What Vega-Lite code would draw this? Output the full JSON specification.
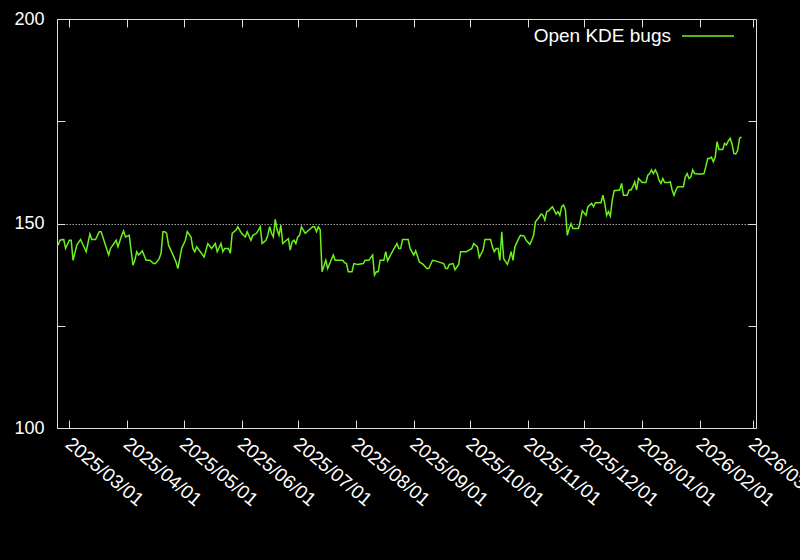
{
  "$schema": "https://vega.github.io/schema/vega-lite/v6.json",
  "width": 699,
  "height": 409,
  "autosize": "none",
  "padding": {"left": 57, "top": 19, "right": 44, "bottom": 132},
  "background": "black",
  "config": {
    "view": {"stroke": "#dddddd", "strokeWidth": 1},
    "font": "Liberation Sans",
    "axis": {"domain": false, "labelColor": "white", "labelFont": "Liberation Sans", "labelFontSize": 18, "tickColor": "#dddddd", "grid": false}
  },
  "data": {"values": [
    {"date":"2025-02-23","bugs":144.7},{"date":"2025-02-24","bugs":145.9},{"date":"2025-02-26","bugs":146.1},{"date":"2025-02-27","bugs":143.9},
    {"date":"2025-03-01","bugs":145.9},{"date":"2025-03-02","bugs":145.9},{"date":"2025-03-03","bugs":141.0},{"date":"2025-03-05","bugs":144.7},
    {"date":"2025-03-07","bugs":146.1},{"date":"2025-03-10","bugs":143.1},{"date":"2025-03-12","bugs":147.4},{"date":"2025-03-13","bugs":146.1},
    {"date":"2025-03-15","bugs":146.1},{"date":"2025-03-17","bugs":148.0},{"date":"2025-03-18","bugs":148.0},{"date":"2025-03-22","bugs":142.3},
    {"date":"2025-03-23","bugs":143.9},{"date":"2025-03-26","bugs":145.9},{"date":"2025-03-27","bugs":144.3},{"date":"2025-03-29","bugs":147.1},
    {"date":"2025-03-30","bugs":148.2},{"date":"2025-03-31","bugs":146.7},{"date":"2025-04-02","bugs":147.1},{"date":"2025-04-04","bugs":139.8},
    {"date":"2025-04-05","bugs":141.0},{"date":"2025-04-06","bugs":143.1},{"date":"2025-04-07","bugs":142.3},{"date":"2025-04-09","bugs":143.3},
    {"date":"2025-04-11","bugs":141.0},{"date":"2025-04-13","bugs":141.0},{"date":"2025-04-15","bugs":140.2},{"date":"2025-04-16","bugs":140.2},
    {"date":"2025-04-18","bugs":141.4},{"date":"2025-04-19","bugs":142.7},{"date":"2025-04-20","bugs":148.0},{"date":"2025-04-21","bugs":148.0},
    {"date":"2025-04-22","bugs":147.6},{"date":"2025-04-23","bugs":144.7},{"date":"2025-04-25","bugs":142.7},{"date":"2025-04-27","bugs":140.6},
    {"date":"2025-04-28","bugs":139.0},{"date":"2025-04-30","bugs":143.9},{"date":"2025-05-02","bugs":145.9},{"date":"2025-05-03","bugs":148.0},
    {"date":"2025-05-05","bugs":146.7},{"date":"2025-05-06","bugs":143.9},{"date":"2025-05-07","bugs":143.1},{"date":"2025-05-08","bugs":144.3},
    {"date":"2025-05-10","bugs":143.1},{"date":"2025-05-12","bugs":141.8},{"date":"2025-05-13","bugs":143.5},{"date":"2025-05-14","bugs":145.1},
    {"date":"2025-05-16","bugs":143.9},{"date":"2025-05-18","bugs":145.1},{"date":"2025-05-19","bugs":143.1},{"date":"2025-05-21","bugs":145.1},
    {"date":"2025-05-22","bugs":143.1},{"date":"2025-05-23","bugs":143.9},{"date":"2025-05-25","bugs":143.9},{"date":"2025-05-26","bugs":142.7},
    {"date":"2025-05-27","bugs":147.6},{"date":"2025-05-29","bugs":148.4},{"date":"2025-05-30","bugs":149.2},{"date":"2025-06-01","bugs":147.6},
    {"date":"2025-06-03","bugs":146.7},{"date":"2025-06-04","bugs":148.0},{"date":"2025-06-06","bugs":145.9},{"date":"2025-06-07","bugs":147.1},
    {"date":"2025-06-09","bugs":147.6},{"date":"2025-06-11","bugs":149.2},{"date":"2025-06-12","bugs":145.1},{"date":"2025-06-14","bugs":145.9},
    {"date":"2025-06-15","bugs":147.1},{"date":"2025-06-16","bugs":149.2},{"date":"2025-06-17","bugs":147.6},{"date":"2025-06-18","bugs":146.7},
    {"date":"2025-06-19","bugs":151.0},{"date":"2025-06-20","bugs":148.4},{"date":"2025-06-21","bugs":147.1},{"date":"2025-06-22","bugs":149.6},
    {"date":"2025-06-23","bugs":145.1},{"date":"2025-06-25","bugs":145.9},{"date":"2025-06-26","bugs":146.3},{"date":"2025-06-27","bugs":143.5},
    {"date":"2025-06-28","bugs":145.5},{"date":"2025-06-29","bugs":145.9},{"date":"2025-06-30","bugs":145.1},{"date":"2025-07-01","bugs":146.7},
    {"date":"2025-07-02","bugs":147.1},{"date":"2025-07-03","bugs":149.2},{"date":"2025-07-05","bugs":147.6},{"date":"2025-07-07","bugs":148.4},
    {"date":"2025-07-09","bugs":149.2},{"date":"2025-07-10","bugs":149.2},{"date":"2025-07-11","bugs":148.0},{"date":"2025-07-12","bugs":149.2},
    {"date":"2025-07-13","bugs":148.5},{"date":"2025-07-14","bugs":138.2},{"date":"2025-07-16","bugs":141.0},{"date":"2025-07-17","bugs":139.0},
    {"date":"2025-07-20","bugs":142.3},{"date":"2025-07-21","bugs":141.0},{"date":"2025-07-25","bugs":141.0},{"date":"2025-07-26","bugs":140.4},
    {"date":"2025-07-27","bugs":140.2},{"date":"2025-07-28","bugs":138.2},{"date":"2025-07-30","bugs":138.2},{"date":"2025-07-31","bugs":140.2},
    {"date":"2025-08-02","bugs":140.0},{"date":"2025-08-05","bugs":140.2},{"date":"2025-08-06","bugs":141.0},{"date":"2025-08-08","bugs":141.0},
    {"date":"2025-08-10","bugs":142.3},{"date":"2025-08-11","bugs":137.4},{"date":"2025-08-12","bugs":138.2},{"date":"2025-08-13","bugs":138.2},
    {"date":"2025-08-14","bugs":141.0},{"date":"2025-08-16","bugs":141.0},{"date":"2025-08-17","bugs":143.1},{"date":"2025-08-18","bugs":140.9},
    {"date":"2025-08-19","bugs":141.8},{"date":"2025-08-21","bugs":143.5},{"date":"2025-08-23","bugs":145.1},{"date":"2025-08-24","bugs":143.9},
    {"date":"2025-08-25","bugs":143.9},{"date":"2025-08-26","bugs":146.1},{"date":"2025-08-29","bugs":146.1},{"date":"2025-08-30","bugs":143.9},
    {"date":"2025-09-01","bugs":142.3},{"date":"2025-09-02","bugs":143.3},{"date":"2025-09-04","bugs":140.6},{"date":"2025-09-06","bugs":140.0},
    {"date":"2025-09-08","bugs":139.0},{"date":"2025-09-09","bugs":139.0},{"date":"2025-09-11","bugs":141.0},{"date":"2025-09-13","bugs":140.8},
    {"date":"2025-09-15","bugs":140.5},{"date":"2025-09-17","bugs":140.2},{"date":"2025-09-18","bugs":139.0},{"date":"2025-09-19","bugs":139.0},
    {"date":"2025-09-20","bugs":140.0},{"date":"2025-09-22","bugs":140.2},{"date":"2025-09-23","bugs":138.7},{"date":"2025-09-25","bugs":140.0},
    {"date":"2025-09-26","bugs":143.1},{"date":"2025-09-29","bugs":143.1},{"date":"2025-10-01","bugs":143.6},{"date":"2025-10-02","bugs":143.9},
    {"date":"2025-10-03","bugs":145.1},{"date":"2025-10-05","bugs":144.3},{"date":"2025-10-06","bugs":141.7},{"date":"2025-10-08","bugs":143.5},
    {"date":"2025-10-09","bugs":146.1},{"date":"2025-10-12","bugs":146.1},{"date":"2025-10-13","bugs":144.3},{"date":"2025-10-14","bugs":143.1},
    {"date":"2025-10-15","bugs":143.9},{"date":"2025-10-16","bugs":143.9},{"date":"2025-10-17","bugs":141.0},{"date":"2025-10-18","bugs":148.0},
    {"date":"2025-10-19","bugs":141.4},{"date":"2025-10-21","bugs":140.0},{"date":"2025-10-22","bugs":141.4},{"date":"2025-10-23","bugs":143.1},
    {"date":"2025-10-24","bugs":141.0},{"date":"2025-10-25","bugs":144.3},{"date":"2025-10-27","bugs":146.3},{"date":"2025-10-28","bugs":147.1},
    {"date":"2025-10-30","bugs":146.9},{"date":"2025-10-31","bugs":145.9},{"date":"2025-11-02","bugs":144.9},{"date":"2025-11-03","bugs":145.9},
    {"date":"2025-11-04","bugs":147.1},{"date":"2025-11-05","bugs":150.4},{"date":"2025-11-07","bugs":151.6},{"date":"2025-11-08","bugs":152.3},
    {"date":"2025-11-09","bugs":152.0},{"date":"2025-11-10","bugs":150.8},{"date":"2025-11-11","bugs":152.9},{"date":"2025-11-12","bugs":153.1},
    {"date":"2025-11-14","bugs":154.1},{"date":"2025-11-15","bugs":153.3},{"date":"2025-11-16","bugs":152.3},{"date":"2025-11-17","bugs":152.9},
    {"date":"2025-11-18","bugs":152.0},{"date":"2025-11-19","bugs":154.1},{"date":"2025-11-20","bugs":154.5},{"date":"2025-11-21","bugs":153.3},
    {"date":"2025-11-22","bugs":147.1},{"date":"2025-11-23","bugs":148.8},{"date":"2025-11-24","bugs":150.0},{"date":"2025-11-25","bugs":148.8},
    {"date":"2025-11-26","bugs":148.8},{"date":"2025-11-28","bugs":148.8},{"date":"2025-11-29","bugs":150.8},{"date":"2025-11-30","bugs":153.1},
    {"date":"2025-12-02","bugs":152.0},{"date":"2025-12-03","bugs":154.1},{"date":"2025-12-05","bugs":154.9},{"date":"2025-12-06","bugs":154.1},
    {"date":"2025-12-07","bugs":155.1},{"date":"2025-12-10","bugs":155.1},{"date":"2025-12-11","bugs":156.9},{"date":"2025-12-12","bugs":154.9},
    {"date":"2025-12-13","bugs":152.0},{"date":"2025-12-14","bugs":152.9},{"date":"2025-12-15","bugs":151.8},{"date":"2025-12-16","bugs":155.7},
    {"date":"2025-12-17","bugs":158.0},{"date":"2025-12-20","bugs":158.2},{"date":"2025-12-21","bugs":159.8},{"date":"2025-12-22","bugs":156.9},
    {"date":"2025-12-24","bugs":156.9},{"date":"2025-12-25","bugs":158.2},{"date":"2025-12-26","bugs":158.2},{"date":"2025-12-27","bugs":159.0},
    {"date":"2025-12-28","bugs":160.2},{"date":"2025-12-29","bugs":158.2},{"date":"2025-12-30","bugs":161.0},{"date":"2026-01-01","bugs":160.0},
    {"date":"2026-01-03","bugs":160.0},{"date":"2026-01-04","bugs":161.8},{"date":"2026-01-05","bugs":162.2},{"date":"2026-01-06","bugs":163.1},
    {"date":"2026-01-07","bugs":162.2},{"date":"2026-01-08","bugs":163.1},{"date":"2026-01-09","bugs":162.2},{"date":"2026-01-10","bugs":160.6},
    {"date":"2026-01-11","bugs":159.8},{"date":"2026-01-12","bugs":161.0},{"date":"2026-01-13","bugs":160.0},{"date":"2026-01-15","bugs":160.0},
    {"date":"2026-01-16","bugs":160.2},{"date":"2026-01-17","bugs":158.2},{"date":"2026-01-18","bugs":156.9},{"date":"2026-01-19","bugs":158.2},
    {"date":"2026-01-20","bugs":159.0},{"date":"2026-01-23","bugs":159.0},{"date":"2026-01-24","bugs":161.3},{"date":"2026-01-25","bugs":162.2},
    {"date":"2026-01-26","bugs":161.0},{"date":"2026-01-27","bugs":161.4},{"date":"2026-01-28","bugs":163.1},{"date":"2026-01-29","bugs":162.2},
    {"date":"2026-01-31","bugs":162.1},{"date":"2026-02-02","bugs":162.1},{"date":"2026-02-03","bugs":162.2},{"date":"2026-02-04","bugs":163.9},
    {"date":"2026-02-05","bugs":165.9},{"date":"2026-02-06","bugs":165.9},{"date":"2026-02-07","bugs":166.2},{"date":"2026-02-08","bugs":165.1},
    {"date":"2026-02-09","bugs":166.2},{"date":"2026-02-10","bugs":170.0},{"date":"2026-02-11","bugs":168.1},{"date":"2026-02-13","bugs":168.1},
    {"date":"2026-02-14","bugs":169.6},{"date":"2026-02-15","bugs":169.2},{"date":"2026-02-16","bugs":170.2},{"date":"2026-02-17","bugs":170.8},
    {"date":"2026-02-18","bugs":169.4},{"date":"2026-02-19","bugs":167.1},{"date":"2026-02-20","bugs":167.0},{"date":"2026-02-21","bugs":167.9},
    {"date":"2026-02-22","bugs":170.8},{"date":"2026-02-23","bugs":171.2}
  ]},
  "layer": [
    {
      "mark": {"type": "line", "strokeWidth": 1.5, "interpolate": "linear"},
      "encoding": {
        "x": {"field": "date", "type": "temporal",
          "scale": {"type": "utc", "domain": ["2025-02-22T10:00:00Z", "2026-03-02T19:00:00Z"], "nice": false},
          "axis": {"orient": "bottom", "title": null,
            "values": [
              {"year":2025,"month":3,"date":1,"utc":true},{"year":2025,"month":4,"date":1,"utc":true},{"year":2025,"month":5,"date":1,"utc":true},
              {"year":2025,"month":6,"date":1,"utc":true},{"year":2025,"month":7,"date":1,"utc":true},{"year":2025,"month":8,"date":1,"utc":true},
              {"year":2025,"month":9,"date":1,"utc":true},{"year":2025,"month":10,"date":1,"utc":true},{"year":2025,"month":11,"date":1,"utc":true},
              {"year":2025,"month":12,"date":1,"utc":true},{"year":2026,"month":1,"date":1,"utc":true},{"year":2026,"month":2,"date":1,"utc":true},
              {"year":2026,"month":3,"date":1,"utc":true}
            ],
            "labelExpr": "utcFormat(datum.value, '%Y/%m/%d')",
            "tickSize": -8, "labelAngle": 40, "labelAlign": "left", "labelOffset": 4, "labelFontSize": 19,
            "labelBaseline": "top", "labelPadding": 14, "labelOverlap": false, "labelBound": false, "labelFlush": false}},
        "y": {"field": "bugs", "type": "quantitative",
          "scale": {"domain": [100, 200], "nice": false, "zero": false},
          "axis": {"orient": "left", "title": null, "values": [100, 125, 150, 175, 200], "tickSize": -8, "labelPadding": 21,
            "labelExpr": "datum.value % 50 === 0 ? datum.label : ''",
            "grid": true, "gridColor": "#a0a0a0", "gridDash": [1.5, 1.5], "gridWidth": 1,
            "gridOpacity": {"condition": {"test": "datum.value === 150", "value": 1}, "value": 0}}},
        "color": {"datum": "Open KDE bugs", "type": "nominal",
          "scale": {"range": ["#6cf020"]},
          "legend": {"title": null, "orient": "none", "legendX": 624, "legendY": -10, "padding": 0,
            "symbolType": "stroke", "symbolSize": 2704, "symbolStrokeWidth": 1.5,
            "labelAlign": "right", "labelOffset": -64, "labelColor": "white", "labelFont": "Liberation Sans", "labelFontSize": 19}}
      }
    },
    {
      "mark": {"type": "line", "strokeOpacity": 0},
      "encoding": {
        "x": {"field": "date", "type": "temporal",
          "axis": {"orient": "top", "title": null, "labels": false,
            "values": [
              {"year":2025,"month":3,"date":1,"utc":true},{"year":2025,"month":4,"date":1,"utc":true},{"year":2025,"month":5,"date":1,"utc":true},
              {"year":2025,"month":6,"date":1,"utc":true},{"year":2025,"month":7,"date":1,"utc":true},{"year":2025,"month":8,"date":1,"utc":true},
              {"year":2025,"month":9,"date":1,"utc":true},{"year":2025,"month":10,"date":1,"utc":true},{"year":2025,"month":11,"date":1,"utc":true},
              {"year":2025,"month":12,"date":1,"utc":true},{"year":2026,"month":1,"date":1,"utc":true},{"year":2026,"month":2,"date":1,"utc":true},
              {"year":2026,"month":3,"date":1,"utc":true}
            ],
            "ticks": true, "tickSize": -8}},
        "y": {"field": "bugs", "type": "quantitative",
          "axis": {"orient": "right", "title": null, "labels": false, "values": [100, 125, 150, 175, 200], "tickSize": -8}}
      }
    }
  ],
  "resolve": {"axis": {"x": "independent", "y": "independent"}}
}
